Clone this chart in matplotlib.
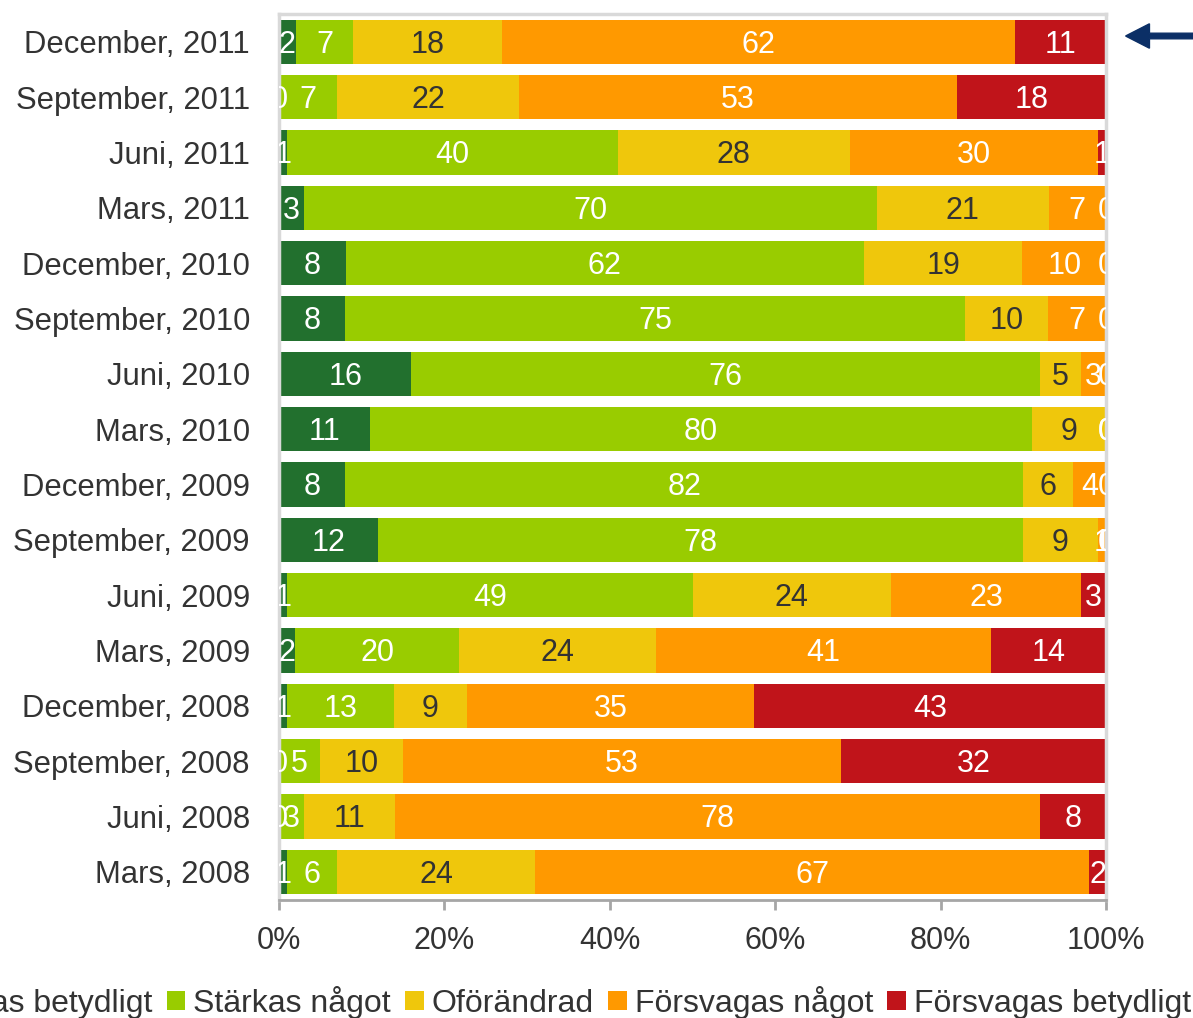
import numpy as np
import matplotlib.pyplot as plt
from matplotlib.patches import Patch, FancyArrow

plt.rcParams['font.family'] = ['Liberation Sans', 'DejaVu Sans']

# Categories, top to bottom
periods = ["December, 2011", "September, 2011", "Juni, 2011", "Mars, 2011",
           "December, 2010", "September, 2010", "Juni, 2010", "Mars, 2010",
           "December, 2009", "September, 2009", "Juni, 2009", "Mars, 2009",
           "December, 2008", "September, 2008", "Juni, 2008", "Mars, 2008"]

series_names = ["Stärkas betydligt", "Stärkas något", "Oförändrad",
                "Försvagas något", "Försvagas betydligt"]

starkas_betydligt = [2, 0, 1, 3, 8, 8, 16, 11, 8, 12, 1, 2, 1, 0, 0, 1]
starkas_nagot = [7, 7, 40, 70, 62, 75, 76, 80, 82, 78, 49, 20, 13, 5, 3, 6]
oforandrad = [18, 22, 28, 21, 19, 10, 5, 9, 6, 9, 24, 24, 9, 10, 11, 24]
forsvagas_nagot = [62, 53, 30, 7, 10, 7, 3, 0, 4, 1, 23, 41, 35, 53, 78, 67]
forsvagas_betydligt = [11, 18, 1, 0, 0, 0, 0, 0, 0, 0, 3, 14, 43, 32, 8, 2]

colors = ["#22702e", "#99cc00", "#efc70c", "#ff9900", "#c0141a"]
label_colors = ["white", "white", "#333333", "white", "white"]

data = np.array([starkas_betydligt, starkas_nagot, oforandrad,
                 forsvagas_nagot, forsvagas_betydligt], dtype=float)
shares = data / data.sum(axis=0) * 100  # 100% stacked

fs = 22
fig = plt.figure(figsize=(11.93, 10.18), dpi=100)
ax = fig.add_axes([0.2339, 0.1163, 0.6932, 0.8697])

y = np.arange(len(periods))
left = np.zeros(len(periods))
for i in range(len(series_names)):
    ax.barh(y, shares[i], left=left, height=0.8, color=colors[i],
            edgecolor='none', label=series_names[i])
    for j in range(len(periods)):
        ax.text(left[j] + shares[i][j] / 2, y[j] + 0.05, f"{int(data[i][j])}",
                ha='center', va='center', fontsize=fs,
                color=label_colors[i], clip_on=True)
    left += shares[i]

ax.set_xlim(0, 100)
ax.set_ylim(len(periods) - 0.5, -0.5)
ax.set_yticks(y)
ax.set_yticklabels(periods, fontsize=fs + 0.3, color='#333333')
ax.tick_params(axis='y', length=0, pad=21)
ax.set_xticks(np.arange(0, 101, 20))
ax.set_xticklabels([f"{v}%" for v in range(0, 101, 20)], fontsize=fs, color='#333333')
ax.tick_params(axis='x', length=7, width=2, color='#a6a6a6', pad=12)

for side in ['top', 'left', 'right']:
    ax.spines[side].set_color('#d9d9d9')
    ax.spines[side].set_linewidth(2.5)
ax.spines['bottom'].set_color('#a6a6a6')
ax.spines['bottom'].set_linewidth(2)

handles = [Patch(facecolor=c, edgecolor='none') for c in colors]
fig.legend(handles, series_names, loc='center right', bbox_to_anchor=(1.0117, 0.0155),
           ncol=5, frameon=False, fontsize=23, handlelength=0.58, handleheight=0.58,
           handletextpad=0.25, columnspacing=0.45, borderpad=0, labelcolor='#333333')

# arrow marking the latest survey
fig.patches.append(FancyArrow(
    1.0, 1 - 36 / 1018, -0.0565, 0, width=0.0055, head_width=0.024,
    head_length=0.02, length_includes_head=True, color='#0b2f66',
    transform=fig.transFigure, figure=fig))

fig.savefig("out.png", dpi=100)
